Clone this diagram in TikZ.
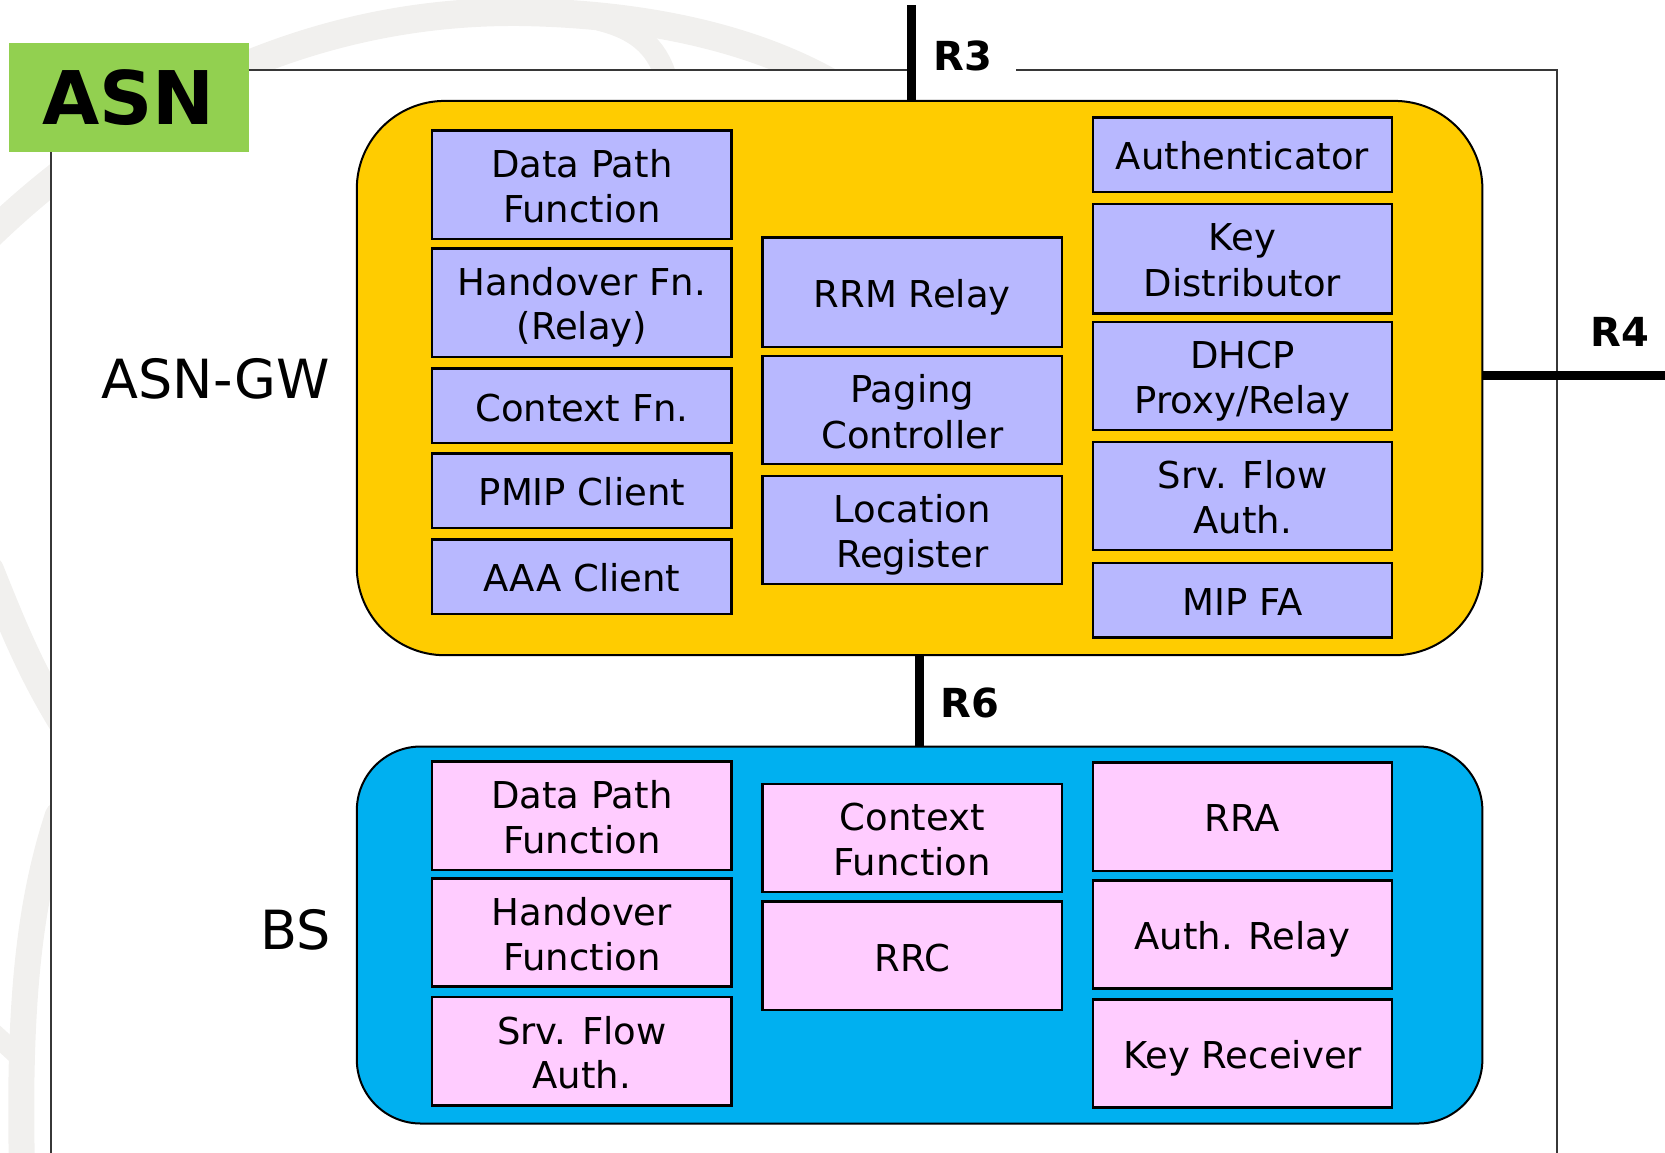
\documentclass[tikz,border=0pt]{standalone}
\usepackage{fontspec}
\setmainfont{DejaVu Sans}
\definecolor{asngreen}{RGB}{146,208,80}
\definecolor{gwyellow}{RGB}{255,204,0}
\definecolor{bsblue}{RGB}{0,176,240}
\definecolor{lav}{RGB}{184,184,255}
\definecolor{pinkbox}{RGB}{255,204,255}
\definecolor{wmark}{RGB}{241,240,238}
\definecolor{framegray}{RGB}{55,55,55}
% line strut: every text line in a function box gets the same height and depth
\newcommand\lnstrut{\rule[-6.85pt]{0pt}{44.3pt}}
\tikzset{
  fnbox/.style={draw=black, line width=2.5pt, minimum width=299.4pt, inner sep=0pt,
    align=center, font=\fontsize{37}{44.6}\selectfont},
  tallbox/.style={fnbox, minimum height=108.3pt},
  shortbox/.style={fnbox, minimum height=74.5pt},
  groupbox/.style={draw=black, line width=2pt, minimum width=1125.6pt, inner sep=0pt},
  sidelabel/.style={inner sep=0pt, font=\fontsize{54}{60}\selectfont},
  reflabel/.style={inner sep=0pt, font=\fontsize{40}{46}\selectfont\bfseries},
  refline/.style={line width=9pt, black},
  framestyle/.style={line width=2pt, framegray},
  wmarkband/.style={line width=28pt, wmark, line cap=round}
}
\begin{document}
\begin{tikzpicture}[x=1pt,y=-1pt]
\useasboundingbox (0,0) rectangle (1665,1152);
\clip (0,0) rectangle (1665,1152);

% faint background logo bands
\draw[wmarkband] (-10,235) .. controls (120,110) and (300,10) .. (520,12)
  .. controls (650,14) and (760,40) .. (840,88);
\draw[wmarkband, line width=22pt] (600,20) .. controls (640,30) and (660,50) .. (668,85);
\draw[wmarkband] (-10,570) .. controls (10,620) and (30,670) .. (62,722);
\draw[wmarkband, line width=26pt] (58,815) .. controls (30,900) and (18,1000) .. (22,1170);
\draw[wmarkband, line width=20pt] (-10,1030) -- (25,1062);

% outer ASN frame
\coordinate (fTL) at (51,70);
\coordinate (fTR) at (1557,70);
\coordinate (fBL) at (51,1170);
\coordinate (fBR) at (1557,1170);
\coordinate (fgap) at (1016,70);
\coordinate (r3top) at (911,5);
\coordinate (r4end) at (1670,375);
\fill[white] (fTL) rectangle (fBR);

\node[fill=asngreen, minimum width=240pt, minimum height=109.4pt, inner sep=0pt,
  font=\fontsize{74}{80}\selectfont\bfseries] (asn) at (128.5,97.2) {ASN};

\draw[framestyle] (asn.east |- fTL) -- (r3top |- fTL);
\draw[framestyle] (fgap) -- (fTR) -- (fBR);
\draw[framestyle] (fTL |- asn.south) -- (fBL);

% ASN-GW group
\node[groupbox, fill=gwyellow, rounded corners=88pt, minimum height=554.3pt] (gw) at (919.6,378.05) {};
% BS group
\node[groupbox, fill=bsblue, rounded corners=64pt, minimum height=377pt] (bs) at (919.6,935) {};

% reference points
\draw[refline] (r3top) -- (r3top |- gw.north);
\draw[refline] (gw.east |- r4end) -- (r4end);
\draw[refline] (gw.south) -- (bs.north);

\node[reflabel] (r3) at (963,56.3) {R3};
\node[reflabel] (r4) at (1619.5,332.4) {R4};
\node[reflabel] (r6) at (970,703) {R6};

\node[sidelabel] (gwlabel) at (215.6,379) {ASN-GW};
\node[sidelabel] (bslabel) at (296,930) {BS};

% ASN-GW functions
\node[tallbox, fill=lav] (gdpf) at (581.9,184.8) {\lnstrut Data Path\\\lnstrut Function};
\node[tallbox, fill=lav] (gho) at (581.9,302.7) {\lnstrut Handover Fn.\\\lnstrut (Relay)};
\node[shortbox, fill=lav] (gctx) at (581.9,405.7) {\lnstrut Context Fn.};
\node[shortbox, fill=lav] (gpmip) at (581.9,490.6) {\lnstrut PMIP Client};
\node[shortbox, fill=lav] (gaaa) at (581.9,576.6) {\lnstrut AAA Client};

\node[tallbox, fill=lav, minimum height=109.3pt] (grrm) at (912.2,292.2) {\lnstrut RRM Relay};
\node[tallbox, fill=lav] (gpage) at (912.2,409.9) {\lnstrut Paging\\\lnstrut Controller};
\node[tallbox, fill=lav] (gloc) at (912.2,529.9) {\lnstrut Location\\\lnstrut Register};

\node[shortbox, fill=lav] (gauth) at (1242.5,154.5) {\lnstrut Authenticator};
\node[tallbox, fill=lav, minimum height=109.4pt] (gkey) at (1242.5,258.6) {\lnstrut Key\\\lnstrut Distributor};
\node[tallbox, fill=lav] (gdhcp) at (1242.5,376.0) {\lnstrut DHCP\\\lnstrut Proxy/Relay};
\node[tallbox, fill=lav] (gsfa) at (1242.5,495.9) {\lnstrut Srv. Flow\\\lnstrut Auth.};
\node[shortbox, fill=lav] (gmip) at (1242.5,600.0) {\lnstrut MIP FA};

% BS functions
\node[tallbox, fill=pinkbox] (bdpf) at (581.9,815.6) {\lnstrut Data Path\\\lnstrut Function};
\node[tallbox, fill=pinkbox] (bho) at (581.9,932.4) {\lnstrut Handover\\\lnstrut Function};
\node[tallbox, fill=pinkbox] (bsfa) at (581.9,1051.3) {\lnstrut Srv. Flow\\\lnstrut Auth.};

\node[tallbox, fill=pinkbox] (bctx) at (912.2,837.9) {\lnstrut Context\\\lnstrut Function};
\node[tallbox, fill=pinkbox] (brrc) at (912.2,955.8) {\lnstrut RRC};

\node[tallbox, fill=pinkbox] (brra) at (1242.5,816.6) {\lnstrut RRA};
\node[tallbox, fill=pinkbox] (bauth) at (1242.5,934.5) {\lnstrut Auth. Relay};
\node[tallbox, fill=pinkbox] (bkey) at (1242.5,1053.4) {\lnstrut Key Receiver};
\end{tikzpicture}
\end{document}
